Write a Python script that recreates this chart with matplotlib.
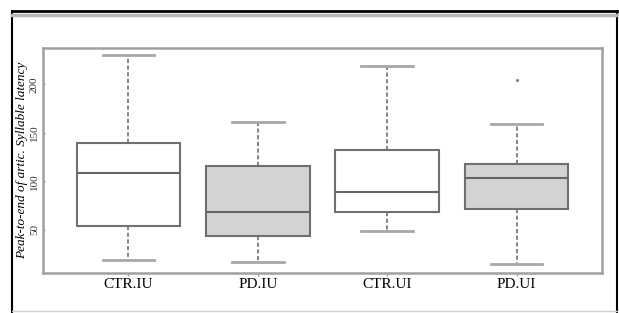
import matplotlib
matplotlib.use("Agg")
import matplotlib.pyplot as plt
from matplotlib.lines import Line2D

## data
groups = ["CTR.IU", "PD.IU", "CTR.UI", "PD.UI"]
whislo = [19, 17, 49, 15]
q1 = [54, 44, 68, 72]
med = [109, 69, 89, 104]
q3 = [140, 116, 132, 118]
whishi = [230, 161, 219, 159]
fliers = [[], [], [], [205]]
fills = ["white", "#d3d3d3", "white", "#d3d3d3"]

serif = ["Liberation Serif", "DejaVu Serif"]

fig = plt.figure(figsize=(6.19, 3.13), dpi=100)
ax = fig.add_axes([0.0695, 0.128, 0.903, 0.719])

stats = []
for i, g in enumerate(groups):
    stats.append(dict(label=g, whislo=whislo[i], q1=q1[i], med=med[i],
                      q3=q3[i], whishi=whishi[i], fliers=fliers[i]))

bp = ax.bxp(stats, positions=[1, 2, 3, 4], widths=0.8, patch_artist=True,
            boxprops=dict(edgecolor="#707070", linewidth=1.5),
            medianprops=dict(color="#666666", linewidth=1.5),
            whiskerprops=dict(color="#707070", linewidth=1.2, linestyle=(0, (2.5, 1.5))),
            capprops=dict(color="#a8a8a8", linewidth=2),
            flierprops=dict(marker="o", markersize=1.3, markerfacecolor="#888888",
                            markeredgecolor="#888888"),
            capwidths=0.4)
for patch, c in zip(bp["boxes"], fills):
    patch.set_facecolor(c)

ax.set_xlim(0.34, 4.66)
ax.set_ylim(5.7, 237.6)
ax.set_yticks([50, 100, 150, 200])
ax.set_yticklabels(["50", "100", "150", "200"], rotation=90, va="center",
                   family=serif, fontsize=8, color="#333333")
ax.tick_params(axis="y", direction="in", length=1.5, width=1, color="#999999", pad=3)
ax.set_xticks([1, 2, 3, 4])
ax.set_xticklabels(groups, family=serif, fontsize=11)
ax.tick_params(axis="x", length=2, width=1, color="#999999", pad=2)
for s in ax.spines.values():
    s.set_color("#a0a0a0")
    s.set_linewidth(1.8)

ax.set_ylabel("Peak-to-end of artic. Syllable latency", family=serif,
              style="italic", fontsize=9.5, labelpad=1)

# outer frame of the figure
fig.add_artist(Line2D([0.0194, 0.0194], [0.0, 0.966], color="black", lw=1.5))
fig.add_artist(Line2D([0.9968, 0.9968], [0.0, 0.966], color="black", lw=1.5))
fig.add_artist(Line2D([0.0194, 0.9968], [0.966, 0.966], color="black", lw=2))
fig.add_artist(Line2D([0.0194, 0.9968], [0.952, 0.952], color="#b8b8b8", lw=2.5))
fig.add_artist(Line2D([0.0194, 0.9968], [0.006, 0.006], color="#d0d0d0", lw=1))

fig.savefig("out.png", dpi=100)
